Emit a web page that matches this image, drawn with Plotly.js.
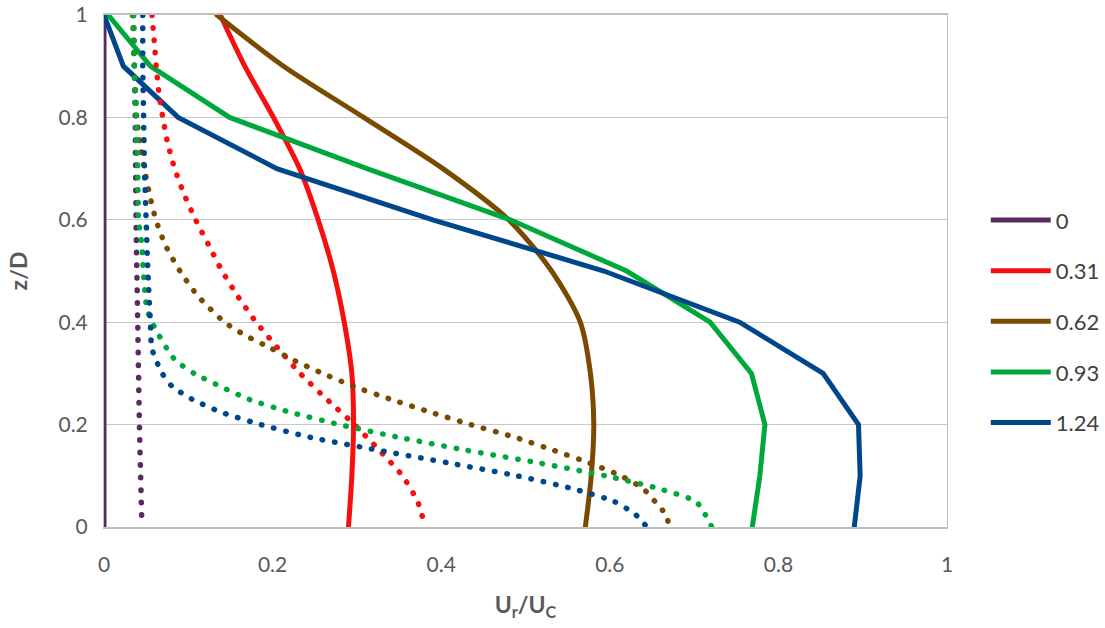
<!DOCTYPE html>
<html>
<head>
<meta charset="utf-8">
<script src="https://cdn.plot.ly/plotly-3.0.1.min.js"></script>
<style>
html, body { margin: 0; padding: 0; background: #fff; }
#chart { width: 1105px; height: 628px; }
.scatterlayer .js-line { stroke-linecap: round !important; }
</style>
</head>
<body>
<div id="chart"></div>
<script>
// Legend names (series)
const seriesNames = ["0", "0.31", "0.62", "0.93", "1.24"];
const seriesColors = ["#5b2a62", "#f70f0f", "#7a4a00", "#00a83c", "#00468a"];

// Solid series: z/D levels and Ur/Uc values
const zSolid = [0, 0.1, 0.2, 0.3, 0.4, 0.5, 0.6, 0.7, 0.8, 0.9, 1.0];
const solid_0    = [0, 0, 0, 0, 0, 0, 0, 0, 0, 0, 0];
const solid_031  = [0.290, 0.294, 0.296, 0.294, 0.285, 0.272, 0.254, 0.232, 0.201, 0.167, 0.138];
const solid_062  = [0.571, 0.578, 0.581, 0.577, 0.565, 0.531, 0.480, 0.402, 0.308, 0.213, 0.134];
const solid_093  = [0.769, 0.778, 0.784, 0.768, 0.719, 0.620, 0.482, 0.312, 0.149, 0.055, 0.005];
const solid_124  = [0.890, 0.897, 0.895, 0.853, 0.754, 0.593, 0.390, 0.205, 0.088, 0.023, 0.000];

// Dotted series (z/D, Ur/Uc)
const zDot_0   = [1, 0.8, 0.6, 0.4, 0.2, 0];
const dot_0    = [0.035, 0.037, 0.038, 0.040, 0.042, 0.045];

const zDot_031 = [1, 0.95, 0.9, 0.85, 0.8, 0.75, 0.7, 0.65, 0.6, 0.55, 0.5, 0.45, 0.4, 0.35, 0.3, 0.25, 0.2, 0.15, 0.1, 0.05, 0];
const dot_031  = [0.057, 0.0595, 0.062, 0.065, 0.0697, 0.0755, 0.0838, 0.095, 0.1087, 0.1244, 0.140, 0.159, 0.1805, 0.206, 0.2326, 0.264, 0.297, 0.3266, 0.354, 0.372, 0.381];

const zDot_062 = [1, 0.9, 0.8, 0.75, 0.7, 0.65, 0.6, 0.55, 0.5, 0.45, 0.4, 0.375, 0.35, 0.325, 0.3, 0.275, 0.25, 0.225, 0.2, 0.175, 0.15, 0.125, 0.1, 0.075, 0.05, 0.025, 0];
const dot_062  = [0.034, 0.036, 0.039, 0.0425, 0.048, 0.054, 0.0615, 0.073, 0.090, 0.112, 0.143, 0.1668, 0.197, 0.226, 0.2593, 0.2956, 0.339, 0.386, 0.435, 0.488, 0.533, 0.5757, 0.613, 0.6395, 0.6534, 0.666, 0.671];

const zDot_093 = [1, 0.9, 0.8, 0.7, 0.6, 0.55, 0.5, 0.45, 0.425, 0.4, 0.375, 0.35, 0.325, 0.3, 0.275, 0.25, 0.225, 0.2, 0.175, 0.15, 0.125, 0.1, 0.075, 0.05, 0.025, 0];
const dot_093  = [0.035, 0.036, 0.038, 0.040, 0.041, 0.045, 0.0466, 0.049, 0.051, 0.057, 0.065, 0.074, 0.085, 0.107, 0.1377, 0.171, 0.219, 0.2794, 0.350, 0.4295, 0.516, 0.5946, 0.658, 0.702, 0.713, 0.721];

const zDot_124 = [1, 0.9, 0.8, 0.7, 0.6, 0.5, 0.4, 0.35, 0.325, 0.3, 0.275, 0.25, 0.225, 0.2, 0.175, 0.15, 0.125, 0.1, 0.075, 0.05, 0.025, 0];
const dot_124  = [0.046, 0.046, 0.047, 0.048, 0.050, 0.052, 0.055, 0.0566, 0.062, 0.069, 0.0805, 0.104, 0.1377, 0.186, 0.245, 0.325, 0.409, 0.4896, 0.5555, 0.605, 0.630, 0.644];

const xTickVals = [0, 0.2, 0.4, 0.6, 0.8, 1];
const xTickText = ["0", "0.2", "0.4", "0.6", "0.8", "1"];
const yTickVals = [0, 0.2, 0.4, 0.6, 0.8, 1];
const yTickText = ["0", "0.2", "0.4", "0.6", "0.8", "1"];

const solidSeries = [solid_0, solid_031, solid_062, solid_093, solid_124];
const solidShapes = ["linear", "spline", "spline", "linear", "linear"];
const dotX = [dot_0, dot_031, dot_062, dot_093, dot_124];
const dotZ = [zDot_0, zDot_031, zDot_062, zDot_093, zDot_124];

const traces = [];
solidSeries.forEach((xs, i) => {
  traces.push({
    type: "scatter", mode: "lines",
    x: xs, y: zSolid,
    name: seriesNames[i],
    legendgroup: "g" + i,
    line: { color: seriesColors[i], width: 5, shape: solidShapes[i], smoothing: 0.8 },
    hoverinfo: "x+y+name"
  });
});
dotX.forEach((xs, i) => {
  traces.push({
    type: "scatter", mode: "lines",
    x: xs, y: dotZ[i],
    name: seriesNames[i] + " (dotted)",
    showlegend: false,
    legendgroup: "g" + i,
    line: { color: seriesColors[i], width: 5.5, dash: "0.5px,12px", shape: "spline", smoothing: 0.6 },
    hoverinfo: "x+y"
  });
});

const font = "Lato, 'Noto Sans', Arial, sans-serif";
const layout = {
  width: 1105, height: 628,
  margin: { l: 104, r: 158, t: 15, b: 101, autoexpand: false },
  paper_bgcolor: "#ffffff", plot_bgcolor: "#ffffff",
  font: { family: font, size: 21, color: "#595959" },
  showlegend: true,
  legend: {
    x: 1.046, xanchor: "left", y: 0.64, yanchor: "top",
    font: { family: font, size: 22, color: "#404040" },
    tracegroupgap: 19,
    itemwidth: 60,
    bgcolor: "rgba(0,0,0,0)"
  },
  xaxis: {
    range: [0, 1], tickvals: xTickVals, ticktext: xTickText,
    showgrid: false, zeroline: false,
    showline: true, linecolor: "#bfbfbf", linewidth: 2, mirror: true,
    ticks: "", ticklabelstandoff: 18,
    tickfont: { family: font, size: 21, color: "#595959" },
    title: { text: "<b>U<sub>r</sub>/U<sub>C</sub></b>", font: { family: font, size: 23, color: "#595959" }, standoff: 22 },
    automargin: false,
    fixedrange: true
  },
  yaxis: {
    range: [0, 1], tickvals: yTickVals, ticktext: yTickText,
    showgrid: true, gridcolor: "#c8c8c8", gridwidth: 1,
    zeroline: false,
    showline: true, linecolor: "#bfbfbf", linewidth: 1, mirror: true,
    ticks: "", ticklabelstandoff: 11,
    tickfont: { family: font, size: 21, color: "#595959" },
    title: { text: "<b>z/D</b>", font: { family: font, size: 23, color: "#595959" }, standoff: 24 },
    automargin: false,
    fixedrange: true
  }
};

Plotly.newPlot("chart", traces, layout, { displayModeBar: false, staticPlot: true });
</script>
</body>
</html>
